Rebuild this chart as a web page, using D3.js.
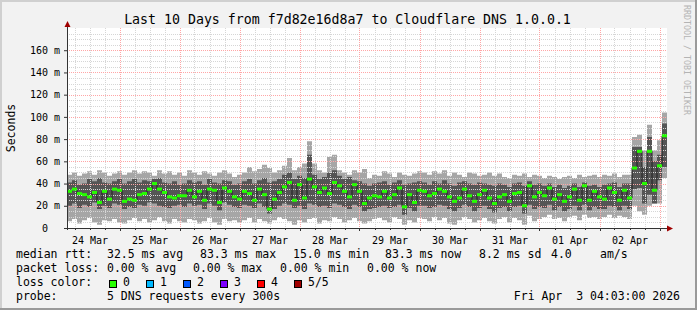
<!DOCTYPE html>
<html>
<head>
<meta charset="utf-8">
<script src="https://cdn.jsdelivr.net/npm/d3@7"></script>
<style>
body { margin: 0; background: #fff; }
svg { display: block; }
text { font-family: "DejaVu Sans Mono", monospace; fill: #000; white-space: pre; }
</style>
</head>
<body>
<svg width="697" height="310"></svg>
<script>
// chart values
const chartTitle = "Last 10 Days from f7d82e16d8a7 to Cloudflare DNS 1.0.0.1";
const yLabel = "Seconds";
const credit = "RRDTOOL / TOBI OETIKER";
const startTime = new Date(2026, 2, 24, 3, 0);
const stepHours = 2;
const yTicks = [0, 20, 40, 60, 80, 100, 120, 140, 160];

// 5 pings per step, sorted: min, 2nd, median, 4th, max (ms)
const pingMin = [6, 8, 4, 7, 9, 5, 3, 7, 6, 8, 5,
  4, 7, 9, 6, 8, 5, 7, 10, 6, 4, 8, 6,
  5, 8, 7, 4, 6, 9, 5, 3, 8, 6, 7, 5,
  7, 9, 5, 8, 6, 4, 7, 10, 8, 6, 3, 7,
  5, 8, 9, 4, 7, 6, 10, 8, 5, 7, 9, 6,
  4, 6, 8, 9, 7, 5, 10, 8, 3, 7, 5, 9,
  8, 6, 10, 7, 9, 4, 3, 7, 10, 8, 5, 7,
  9, 6, 4, 8, 10, 5, 9, 7, 3, 11, 6, 8,
  10, 12, 8, 9, 6, 10, 11, 7, 12, 9, 10, 8,
  10, 12, 9, 11, 10, 8, 20, 15, 12, 20, 22, 22,
  45];
const pingLow = [20, 22, 18, 21, 19, 23, 17, 20, 18, 22, 21,
  17, 19, 18, 21, 20, 23, 22, 20, 19, 18, 20, 21,
  19, 22, 20, 21, 17, 22, 20, 16, 23, 21, 19, 18,
  21, 20, 18, 22, 19, 13, 17, 20, 22, 21, 18, 20,
  17, 22, 21, 19, 20, 18, 22, 21, 19, 17, 21, 19,
  15, 17, 18, 19, 20, 18, 19, 21, 12, 18, 15, 20,
  20, 18, 19, 21, 20, 17, 15, 18, 21, 19, 15, 18,
  20, 17, 14, 18, 19, 15, 19, 20, 13, 21, 17, 19,
  18, 21, 16, 19, 15, 17, 20, 16, 21, 16, 19, 17,
  17, 20, 19, 16, 20, 17, 35, 36, 22, 30, 22, 43,
  55];
const pingMedian = [33, 35, 31, 30, 28, 32, 23, 33, 26, 35, 34,
  24, 26, 25, 30, 31, 35, 40, 35, 32, 28, 27, 29,
  29, 34, 28, 33, 25, 35, 34, 23, 36, 33, 28, 26,
  33, 31, 25, 35, 30, 17, 26, 32, 37, 41, 25, 39,
  27, 44, 37, 32, 36, 31, 41, 38, 33, 28, 39, 33,
  22, 27, 29, 28, 33, 27, 30, 36, 19, 30, 23, 34,
  33, 29, 31, 35, 33, 28, 24, 27, 35, 29, 24, 30,
  34, 27, 22, 28, 30, 24, 31, 32, 20, 38, 28, 32,
  29, 36, 26, 30, 24, 28, 35, 25, 38, 25, 33, 28,
  26, 36, 32, 25, 34, 27, 54, 69, 40, 69, 34, 56,
  83];
const pingHigh = [41, 43, 39, 40, 44, 42, 45, 41, 40, 42, 44,
  40, 42, 44, 41, 43, 42, 44, 45, 41, 40, 42, 39,
  40, 43, 41, 42, 39, 44, 41, 40, 43, 42, 39, 40,
  42, 44, 40, 43, 45, 41, 42, 44, 48, 50, 44, 47,
  45, 66, 48, 44, 46, 50, 52, 47, 44, 46, 43, 42,
  40, 38, 40, 41, 42, 39, 41, 43, 39, 40, 41, 42,
  41, 39, 42, 40, 43, 40, 38, 41, 42, 40, 39, 41,
  40, 39, 38, 40, 39, 37, 40, 41, 38, 42, 39, 40,
  38, 40, 37, 39, 36, 38, 40, 37, 41, 38, 39, 37,
  39, 40, 41, 37, 40, 40, 73, 73, 55, 82, 60, 66,
  94];
const pingMax = [48, 50, 47, 49, 51, 48, 52, 50, 47, 49, 51,
  48, 50, 52, 49, 51, 50, 47, 52, 49, 51, 48, 50,
  47, 52, 50, 48, 51, 49, 47, 50, 52, 49, 46, 48,
  50, 55, 51, 53, 57, 54, 50, 52, 56, 63, 52, 55,
  58, 78, 58, 52, 50, 64, 66, 52, 50, 48, 52, 50,
  53, 45, 48, 47, 51, 49, 46, 50, 48, 47, 49, 51,
  50, 48, 51, 49, 52, 47, 50, 48, 46, 50, 49, 47,
  48, 50, 47, 49, 46, 45, 48, 47, 49, 46, 48, 47,
  45, 47, 46, 44, 46, 47, 45, 48, 46, 47, 48, 46,
  48, 47, 49, 46, 48, 48, 82, 84, 70, 93, 70, 79,
  104];

// legend texts
const rttName = "median rtt:";
const rttStats = ["32.5 ms avg", "83.3 ms max", "15.0 ms min", "83.3 ms now", "8.2 ms sd", "4.0", "am/s"];
const lossName = "packet loss:";
const lossStats = ["0.00 % avg", "0.00 % max", "0.00 % min", "0.00 % now"];
const lossColorName = "loss color:";
const lossLabels = ["0", "1", "2", "3", "4", "5/5"];
const lossColors = ["#26ff00", "#00b8ff", "#0059ff", "#7e00ff", "#ff0000", "#a00000"];
const probeName = "probe:";
const probeText = "5 DNS requests every 300s";
const stampText = "Fri Apr  3 04:03:00 2026";

// layout
const W = 697, H = 310;
const pL = 67, pR = 667, pT = 28, pB = 228;
const rttX = [107, 200, 293, 385, 479, 551, 600];
const lossX = [107, 193, 280, 367];
const boxX = [109, 146, 183, 220, 257, 294];

const svg = d3.select("svg");

// background + 3d border
svg.append("rect").attr("width", W).attr("height", H).attr("fill", "#f2f2f2");
svg.append("path").attr("d", `M0,${H} V0 H${W}`).attr("fill", "none")
  .attr("stroke", "#d0d0d0").attr("stroke-width", 4);
svg.append("path").attr("d", `M0,${H} H${W} V0`).attr("fill", "none")
  .attr("stroke", "#9a9a9a").attr("stroke-width", 4);
svg.append("rect").attr("x", pL).attr("y", pT)
  .attr("width", pR - pL).attr("height", pB - pT).attr("fill", "#fff");

const steps = pingMedian.map((m, i) => ({
  t: d3.timeHour.offset(startTime, i * stepHours),
  t1: d3.timeHour.offset(startTime, (i + 1) * stepHours),
  lo: pingMin[i], q1: pingLow[i], med: m, q3: pingHigh[i], hi: pingMax[i]
}));
const endTime = steps[steps.length - 1].t1;
const stepPts = steps.concat([Object.assign({}, steps[steps.length - 1], {t: endTime})]);

const x = d3.scaleTime().domain([startTime, endTime]).range([pL, pR]);
const y = d3.scaleLinear().domain([0, 180]).range([pB, pT]);

// smoke
const smoke = svg.append("g");
smoke.append("path").datum(stepPts)
  .attr("fill", "#a6a6a6")
  .attr("d", d3.area().curve(d3.curveStepAfter).x(d => x(d.t)).y0(d => y(d.lo)).y1(d => y(d.hi)));
smoke.append("path").datum(stepPts)
  .attr("fill", "#555555")
  .attr("d", d3.area().curve(d3.curveStepAfter).x(d => x(d.t)).y0(d => y(d.q1)).y1(d => y(d.q3)));

// grid
const grid = svg.append("g").attr("stroke-dasharray", "1,1").attr("stroke-width", 1);
const minorY = d3.range(5, 181, 5).filter(v => v % 20 !== 0);
const majorY = yTicks.filter(v => v > 0);
const hours6 = d3.timeHour.every(6).range(startTime, d3.timeHour.offset(endTime, 1));
const days = d3.timeDay.range(startTime, endTime);
grid.selectAll("line.hminor").data(minorY).enter().append("line")
  .attr("x1", pL).attr("x2", pR)
  .attr("y1", d => Math.round(y(d)) + 0.5).attr("y2", d => Math.round(y(d)) + 0.5)
  .attr("stroke", "#d6d6d6");
grid.selectAll("line.vminor").data(hours6.filter(d => d.getHours() !== 0)).enter().append("line")
  .attr("x1", d => Math.round(x(d)) + 0.5).attr("x2", d => Math.round(x(d)) + 0.5)
  .attr("y1", pT).attr("y2", pB)
  .attr("stroke", "#d6d6d6");
grid.selectAll("line.hmajor").data(majorY).enter().append("line")
  .attr("x1", pL).attr("x2", pR)
  .attr("y1", d => Math.round(y(d)) + 0.5).attr("y2", d => Math.round(y(d)) + 0.5)
  .attr("stroke", "#ffa6a6");
grid.selectAll("line.vmajor").data(days).enter().append("line")
  .attr("x1", d => Math.round(x(d)) + 0.5).attr("x2", d => Math.round(x(d)) + 0.5)
  .attr("y1", pT).attr("y2", pB)
  .attr("stroke", "#ffa6a6");

// median: dark step line plus loss-coloured marks
svg.append("path").datum(stepPts)
  .attr("fill", "none").attr("stroke", "#202020").attr("stroke-width", 1)
  .attr("d", d3.line().curve(d3.curveStepAfter).x(d => x(d.t)).y(d => y(d.med)));
svg.append("g").selectAll("rect").data(steps).enter().append("rect")
  .attr("x", d => x(d.t)).attr("width", d => x(d.t1) - x(d.t))
  .attr("y", d => y(d.med) - 1.5).attr("height", 3)
  .attr("fill", lossColors[0]);

// axes
const yAxis = d3.axisLeft(y).tickValues(yTicks).tickSize(3).tickPadding(4)
  .tickFormat(d => d === 0 ? "0  " : d + " m");
const yG = svg.append("g").attr("transform", `translate(${pL},0)`).call(yAxis);
yG.select(".domain").remove();
yG.selectAll("text").attr("font-size", 10).attr("xml:space", "preserve")
  .attr("font-family", "DejaVu Sans Mono, monospace");
yG.selectAll("line").attr("stroke", "#333");

const noons = days.concat([d3.timeDay.offset(days[0], -1)])
  .map(d => d3.timeHour.offset(d, -12)).filter(d => d >= startTime && d <= endTime);
const xAxis = d3.axisBottom(x).tickValues(noons).tickSize(0).tickPadding(9)
  .tickFormat(d3.timeFormat("%d %b"));
const xG = svg.append("g").attr("transform", `translate(0,${pB})`).call(xAxis);
xG.select(".domain").remove();
xG.selectAll("text").attr("font-size", 10).attr("font-family", "DejaVu Sans Mono, monospace");
svg.append("g").selectAll("line").data(hours6).enter().append("line")
  .attr("x1", d => Math.round(x(d)) + 0.5).attr("x2", d => Math.round(x(d)) + 0.5)
  .attr("y1", pB).attr("y2", d => pB + (d.getHours() === 0 ? 3 : 2))
  .attr("stroke", "#333");

svg.append("line").attr("x1", pL + 0.5).attr("x2", pL + 0.5).attr("y1", pB + 2).attr("y2", pT - 4)
  .attr("stroke", "#333");
svg.append("line").attr("x1", pL - 2).attr("x2", pR + 2).attr("y1", pB + 0.5).attr("y2", pB + 0.5)
  .attr("stroke", "#333");
svg.append("path").attr("d", `M${pL + 0.5},${pT - 7} L${pL - 2.5},${pT - 1} L${pL + 3.5},${pT - 1} Z`)
  .attr("fill", "#a00000");
svg.append("path").attr("d", `M${pR + 6},${pB + 0.5} L${pR},${pB - 2.5} L${pR},${pB + 3.5} Z`)
  .attr("fill", "#a00000");

// titles
svg.append("text").attr("x", 347.5).attr("y", 23.5).attr("text-anchor", "middle")
  .attr("font-size", 13.25).text(chartTitle);
svg.append("text").attr("transform", `translate(15,${(pT + pB) / 2}) rotate(-90)`)
  .attr("text-anchor", "middle").attr("font-size", 11.5).text(yLabel);
svg.append("text").attr("transform", "translate(684,5) rotate(90)")
  .attr("font-size", 8.3).style("fill", "#b4b4b4").text(credit);

// legend
const legend = svg.append("g").attr("font-size", 11.5);
legend.append("text").attr("x", 16).attr("y", 258).text(rttName);
legend.selectAll("text.rtt").data(rttStats).enter().append("text")
  .attr("x", (d, i) => rttX[i]).attr("y", 258).text(d => d);
legend.append("text").attr("x", 16).attr("y", 272).text(lossName);
legend.selectAll("text.loss").data(lossStats).enter().append("text")
  .attr("x", (d, i) => lossX[i]).attr("y", 272).text(d => d);
legend.append("text").attr("x", 16).attr("y", 286).text(lossColorName);
legend.selectAll("rect.lc").data(lossColors).enter().append("rect")
  .attr("x", (d, i) => boxX[i] + 0.5).attr("y", 280.5).attr("width", 7).attr("height", 7)
  .attr("fill", d => d).attr("stroke", "#000");
legend.selectAll("text.lcl").data(lossLabels).enter().append("text")
  .attr("x", (d, i) => boxX[i] + 14).attr("y", 286).text(d => d);
legend.append("text").attr("x", 16).attr("y", 299.5).text(probeName);
legend.append("text").attr("x", 107).attr("y", 299.5).text(probeText);
legend.append("text").attr("x", 680).attr("y", 299.5).attr("text-anchor", "end")
  .attr("xml:space", "preserve").text(stampText);
</script>
</body>
</html>
